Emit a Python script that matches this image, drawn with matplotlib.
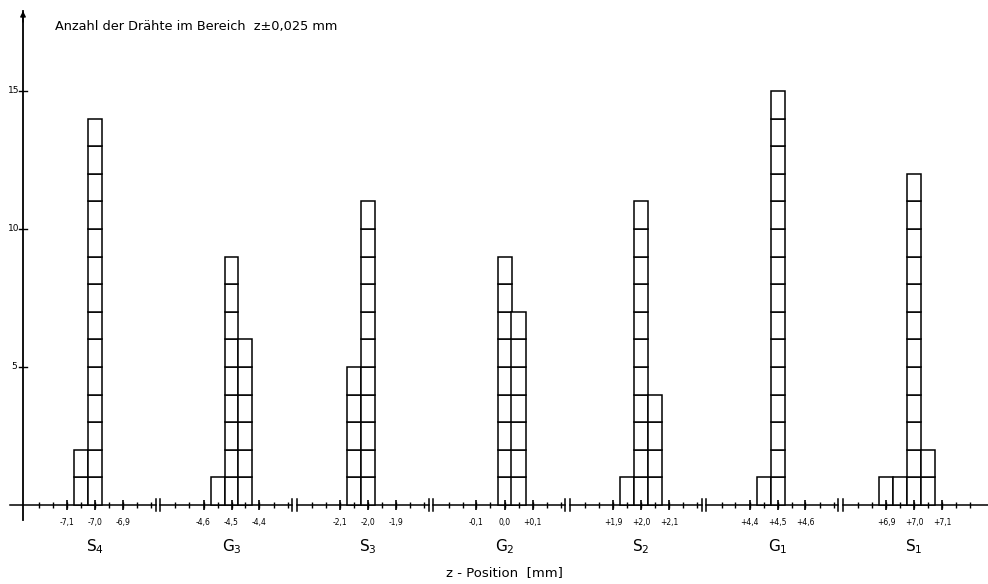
import numpy as np
import matplotlib
matplotlib.use("Agg")
import matplotlib.pyplot as plt

# ── Daten ────────────────────────────────────────────────────────
groups   = ["S_4", "G_3", "S_3", "G_2", "S_2", "G_1", "S_1"]
centers  = [-7.0, -4.5, -2.0, 0.0, 2.0, 4.5, 7.0]
bin_z = [[-7.05, -7.00],
         [-4.55, -4.50, -4.45],
         [-2.05, -2.00],
         [0.00, 0.05],
         [1.95, 2.00, 2.05],
         [4.45, 4.50],
         [6.90, 6.95, 7.00, 7.05]]
bin_n = [[2, 14],
         [1, 9, 6],
         [5, 11],
         [9, 7],
         [1, 11, 4],
         [1, 15],
         [1, 1, 12, 2]]
tick_labels = [["-7,1", "-7,0", "-6,9"],
               ["-4,6", "-4,5", "-4,4"],
               ["-2,1", "-2,0", "-1,9"],
               ["-0,1", "0,0", "+0,1"],
               ["+1,9", "+2,0", "+2,1"],
               ["+4,4", "+4,5", "+4,6"],
               ["+6,9", "+7,0", "+7,1"]]
y_ticks = [5, 10, 15]

GAP   = 0.4875   # Abstand der Gruppen (in mm-Einheiten der lokalen Achse)
WIDTH = 0.05     # Klassenbreite z±0,025 mm
LW    = 1.1

fig = plt.figure(figsize=(9.88, 5.84), dpi=100, facecolor="white")
ax = fig.add_axes([0, 0, 1, 1])
ax.set_xlim(-95 / 280, (988 - 95) / 280)
ax.set_ylim(-(584 - 505) / 27.6, 505 / 27.6)
ax.axis("off")

def pos(g, z):
    return g * GAP + (z - centers[g])

# Balken aus Einzelzellen
for g in range(len(groups)):
    for z, n in zip(bin_z[g], bin_n[g]):
        for k in range(n):
            ax.bar(pos(g, z), 1, bottom=k, width=WIDTH, facecolor="white",
                   edgecolor="black", linewidth=LW, zorder=3)

# x-Achse mit Unterbrechungen
x_start = -0.305
x_end   = (988 - 95) / 280
breaks  = [g * GAP + GAP / 2 - 0.018 for g in range(len(groups) - 1)]
seg_l = [x_start] + [b + 0.008 for b in breaks]
seg_r = [b - 0.008 for b in breaks] + [x_end]
for l, r in zip(seg_l, seg_r):
    ax.plot([l, r], [0, 0], color="black", lw=LW, zorder=2)
for b in breaks:
    for dx in (-0.008, 0.008):
        ax.plot([b + dx, b + dx], [-0.22, 0.22], color="black", lw=LW)

for g in range(len(groups)):
    minor = [pos(g, centers[g] + k * 0.05) for k in range(-4, 5)]
    major = [pos(g, centers[g] + k * 0.1) for k in (-1, 0, 1)]
    ax.plot(minor, np.zeros(len(minor)), "|", color="black", ms=4, mew=1.0, zorder=4)
    ax.plot(major, np.zeros(len(major)), "|", color="black", ms=7, mew=1.2, zorder=4)
    for k, lab in zip((-1, 0, 1), tick_labels[g]):
        ax.text(pos(g, centers[g] + k * 0.1), -0.62, lab, ha="center", va="center",
                fontsize=5.5, color="black")
    ax.text(g * GAP, -1.5, r"$\mathregular{%s}$" % groups[g], ha="center",
            va="center", fontsize=11, color="black")

# y-Achse
y_x = -72 / 280
ax.plot([y_x, y_x], [-0.55, 17.9], color="black", lw=1.3)
ax.annotate("", xy=(y_x, 18.0), xytext=(y_x, 17.4),
            arrowprops=dict(arrowstyle="-|>", color="black", lw=1.0,
                            mutation_scale=8))
for t in y_ticks:
    ax.plot([y_x - 0.015, y_x + 0.015], [t, t], color="black", lw=1.0)
    ax.text(-81 / 280, t, str(t), ha="center", va="center", fontsize=6.5)

ax.text(-40 / 280, (505 - 27) / 27.6, "Anzahl der Drähte im Bereich  z±0,025 mm",
        ha="left", va="center", fontsize=9.3, color="black")
ax.text(3 * GAP, -2.45, "z - Position  [mm]", ha="center", va="center",
        fontsize=9.5, color="black")

fig.savefig("out.png", dpi=100, facecolor="white")
